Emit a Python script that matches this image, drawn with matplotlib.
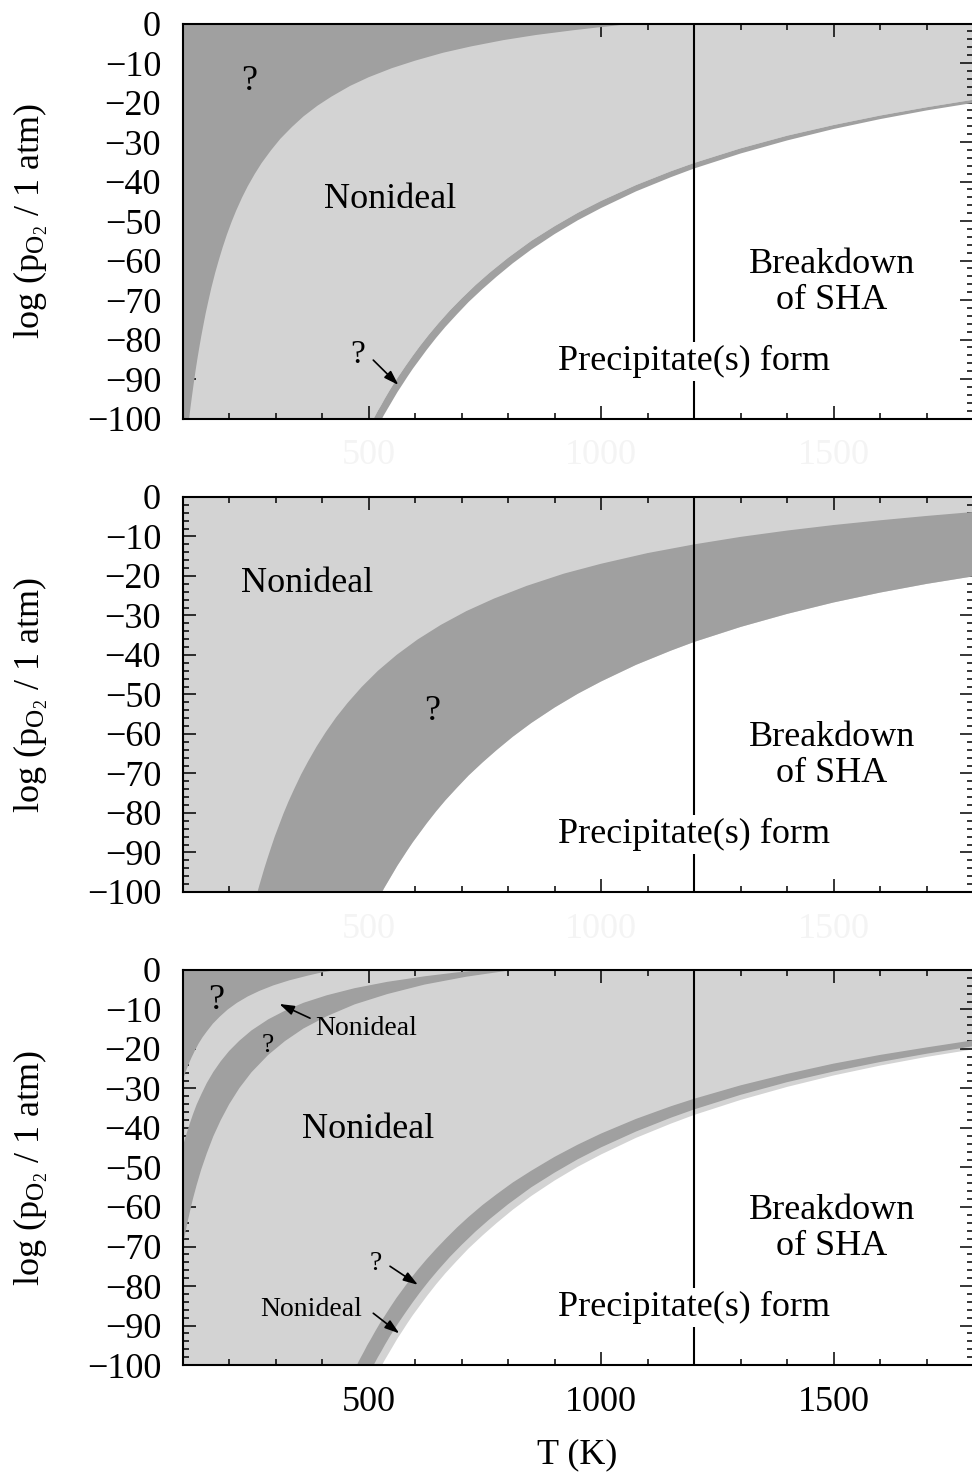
import matplotlib
matplotlib.use('Agg')
import matplotlib.pyplot as plt
from matplotlib.ticker import MultipleLocator

plt.rcParams['font.family'] = ['Liberation Serif', 'DejaVu Serif']
plt.rcParams['mathtext.fontset'] = 'custom'
plt.rcParams['mathtext.rm'] = 'Liberation Serif'
plt.rcParams['mathtext.it'] = 'Liberation Serif:italic'

DARK = '#a0a0a0'
LIGHT = '#d3d3d3'
T_MIN, T_MAX = 100, 1800
P_MIN, P_MAX = -100, 0
T_SHA = 1200

# --- boundary curves (T in K, log pO2) ---
# panel 1: edge of the upper-left "?" region
T_p1_top = [114, 117, 120, 124, 128, 132, 136, 140, 145, 150, 156, 162, 170,
            178, 186, 195, 205, 215, 228, 240, 255, 270, 290, 310, 335, 360,
            390, 420, 460, 500, 550, 600, 660, 720, 790, 860, 940, 1000, 1072]
P_p1_top = [-100, -97.1, -94.4, -91.0, -87.7, -84.7, -81.9, -79.2, -76.1, -73.1,
            -69.9, -66.8, -63.1, -59.8, -56.7, -53.5, -50.3, -47.4, -44.0, -41.2,
            -38.1, -35.3, -32.1, -29.2, -26.2, -23.5, -20.8, -18.5, -15.8, -13.6,
            -11.3, -9.4, -7.4, -5.8, -4.2, -2.9, -1.7, -0.9, 0]

# precipitation boundary, upper side of the thin band
T_prec_a = [511, 515, 520, 527, 535, 545, 555, 565, 580, 595, 610, 630, 650,
            675, 700, 730, 760, 800, 850, 900, 950, 1000, 1075, 1150, 1200,
            1300, 1400, 1500, 1600, 1700, 1800]
P_prec_a = [-100, -99.1, -98.0, -96.6, -94.9, -92.9, -91.0, -89.2, -86.6, -84.1,
            -81.7, -78.7, -75.9, -72.6, -69.6, -66.2, -63.1, -59.3, -55.0, -51.3,
            -47.9, -44.9, -40.9, -37.4, -35.3, -31.6, -28.4, -25.7, -23.3, -21.2,
            -19.3]

# precipitation boundary, lower side (edge of the white region)
T_prec_b = [529, 533, 538, 545, 553, 562, 572, 583, 595, 610, 625, 645, 665,
            690, 715, 745, 775, 810, 850, 900, 950, 1000, 1075, 1150, 1200,
            1300, 1400, 1500, 1600, 1700, 1800]
P_prec_b = [-100, -99.1, -98.1, -96.7, -95.1, -93.3, -91.5, -89.5, -87.4, -85.0,
            -82.6, -79.6, -76.8, -73.6, -70.5, -67.2, -64.1, -60.7, -57.2, -53.3,
            -49.8, -46.7, -42.5, -38.9, -36.7, -32.9, -29.6, -26.7, -24.2, -22.0,
            -20.1]

# panel 2: upper edge of the wide "?" band
T_p2_band = [261, 265, 270, 276, 283, 290, 298, 307, 317, 328, 340, 355, 370,
             388, 408, 430, 455, 485, 520, 560, 605, 655, 710, 770, 840, 920,
             1000, 1100, 1200, 1300, 1400, 1500, 1600, 1700, 1800]
P_p2_band = [-100, -98.3, -96.3, -93.9, -91.3, -88.8, -86.0, -83.2, -80.1, -77.0,
             -73.9, -70.2, -66.9, -63.2, -59.5, -55.8, -52.1, -48.1, -44.0, -40.0,
             -36.1, -32.4, -28.9, -25.7, -22.5, -19.4, -16.9, -14.2, -12.0, -10.1,
             -8.5, -7.1, -5.9, -4.8, -3.8]

# panel 3: edge of the upper-left "?" region
T_p3_corner = [100, 104, 108, 113, 119, 126, 134, 143, 153, 165, 180, 197, 217,
               240, 265, 295, 330, 370, 400, 430]
P_p3_corner = [-28.0, -26.6, -25.3, -23.8, -22.2, -20.5, -18.7, -17.0, -15.4,
               -13.6, -11.8, -10.0, -8.3, -6.7, -5.3, -3.9, -2.6, -1.4, -0.6, 0]

# panel 3: curved "?" band, upper and lower edges
T_p3_arc_a = [100, 104, 109, 115, 122, 130, 140, 152, 166, 182, 200, 222, 248,
              284, 320, 360, 410, 470, 540, 620, 690, 745]
P_p3_arc_a = [-45.0, -43.2, -41.2, -39.0, -36.6, -34.1, -31.5, -28.6, -25.8,
              -23.1, -20.5, -17.9, -15.3, -12.5, -10.3, -8.3, -6.4, -4.6, -3.0,
              -1.6, -0.6, 0]

T_p3_arc_b = [100, 104, 109, 115, 122, 130, 140, 152, 166, 182, 200, 222, 248,
              284, 320, 360, 410, 470, 540, 620, 710, 810]
P_p3_arc_b = [-70.0, -67.6, -64.7, -61.5, -58.0, -54.5, -50.5, -46.4, -42.1,
              -38.0, -34.0, -29.9, -25.9, -21.5, -18.0, -14.8, -11.7, -8.7, -6.1,
              -3.7, -1.7, 0]

# panel 3: upper edge of the dark band near the precipitation boundary
T_p3_low = [475, 479, 484, 490, 497, 505, 514, 524, 535, 547, 560, 575, 590,
            607, 625, 645, 667, 690, 715, 745, 775, 810, 850, 900, 950, 1000,
            1075, 1150, 1200, 1300, 1400, 1500, 1600, 1700, 1800]
P_p3_low = [-100, -99.0, -97.9, -96.6, -95.0, -93.4, -91.5, -89.5, -87.5, -85.3,
            -83.0, -80.6, -78.2, -75.7, -73.2, -70.6, -67.9, -65.2, -62.5, -59.5,
            -56.8, -53.8, -50.8, -47.3, -44.2, -41.4, -37.7, -34.5, -32.6, -29.2,
            -26.3, -23.7, -21.5, -19.6, -17.8]

x_ticks = [500, 1000, 1500]
y_label = r'log (p$_{\mathrm{O}_2}$ / 1 atm)'


def fill_above(ax, T, P, color):
    ax.fill(T + [T_MAX, T_MIN, T_MIN], P + [P_MAX, P_MAX, P_MIN],
            color=color, lw=0, zorder=1)


def fill_left(ax, T, P, color):
    ax.fill(T + [T_MIN, T_MIN], P + [P_MAX, P_MIN], color=color, lw=0, zorder=3)


def fill_band(ax, T_up, P_up, T_lo, P_lo, color):
    ax.fill(T_up + T_lo[::-1], P_up + P_lo[::-1], color=color, lw=0, zorder=2)


def arrow(ax, start, end):
    ax.annotate('', xy=end, xytext=start,
                arrowprops=dict(arrowstyle='-|>,head_length=0.55,head_width=0.18',
                                lw=1.2, color='black', mutation_scale=16,
                                shrinkA=0, shrinkB=0),
                zorder=6)


def common(ax, faint_labels):
    ax.set_xlim(T_MIN, T_MAX)
    ax.set_ylim(P_MIN, P_MAX)
    ax.set_xticks(x_ticks)
    ax.xaxis.set_minor_locator(MultipleLocator(100))
    ax.yaxis.set_major_locator(MultipleLocator(10))
    ax.yaxis.set_minor_locator(MultipleLocator(2))
    ax.tick_params(which='both', direction='in', top=True, right=True,
                   width=1.1, labelsize=26)
    ax.tick_params(which='major', length=9.5)
    ax.tick_params(which='minor', length=4.5)
    ax.tick_params(axis='y', pad=15.5)
    ax.tick_params(axis='x', pad=15,
                   labelcolor='#f4f4f4' if faint_labels else 'black')
    for s in ax.spines.values():
        s.set_linewidth(1.5)
        s.set_zorder(10)
    ax.plot([T_SHA, T_SHA], [P_MIN, P_MAX], color='black', lw=1.5, zorder=4)
    ax.text(1496, -65.5, 'Breakdown\nof SHA', fontsize=26, ha='center',
            va='center', linespacing=1.12, zorder=7)
    ax.text(T_SHA, -85.5, 'Precipitate(s) form', fontsize=26, ha='center',
            va='center', zorder=7,
            bbox=dict(facecolor='white', edgecolor='none', pad=2))


fig = plt.figure(figsize=(9.72, 14.8), dpi=100)
left, width, height = 0.1879, 0.8132, 0.2669
ax1 = fig.add_axes([left, 0.7172, width, height])
ax2 = fig.add_axes([left, 0.3973, width, height])
ax3 = fig.add_axes([left, 0.0777, width, height])

# panel 1
fill_above(ax1, T_prec_a, P_prec_a, LIGHT)
fill_band(ax1, T_prec_a, P_prec_a, T_prec_b, P_prec_b, DARK)
fill_left(ax1, T_p1_top, P_p1_top, DARK)
common(ax1, True)
ax1.text(243, -14.8, '?', fontsize=26, ha='center', va='center', zorder=7)
ax1.text(546, -44.6, 'Nonideal', fontsize=26, ha='center', va='center', zorder=7)
ax1.text(476, -83.9, '?', fontsize=24, ha='center', va='center', zorder=7)
arrow(ax1, (510, -85.2), (564, -91.5))

# panel 2
fill_above(ax2, T_prec_b, P_prec_b, LIGHT)
fill_band(ax2, T_p2_band, P_p2_band, T_prec_b, P_prec_b, DARK)
common(ax2, True)
ax2.text(368, -21.8, 'Nonideal', fontsize=26, ha='center', va='center', zorder=7)
ax2.text(637, -54.4, '?', fontsize=26, ha='center', va='center', zorder=7)

# panel 3
fill_above(ax3, T_prec_b, P_prec_b, LIGHT)
fill_band(ax3, T_p3_low, P_p3_low, T_prec_a, P_prec_a, DARK)
fill_band(ax3, T_p3_arc_a, P_p3_arc_a, T_p3_arc_b, P_p3_arc_b, DARK)
fill_left(ax3, T_p3_corner, P_p3_corner, DARK)
common(ax3, False)
ax3.text(172, -7.6, '?', fontsize=26, ha='center', va='center', zorder=7)
ax3.text(495, -14.7, 'Nonideal', fontsize=20, ha='center', va='center', zorder=7)
arrow(ax3, (374, -12.2), (308, -8.6))
ax3.text(284, -19.2, '?', fontsize=20, ha='center', va='center', zorder=7)
ax3.text(499, -40.5, 'Nonideal', fontsize=26, ha='center', va='center', zorder=7)
ax3.text(516, -74.2, '?', fontsize=20, ha='center', va='center', zorder=7)
arrow(ax3, (546, -75.0), (606, -79.7))
ax3.text(376, -86.0, 'Nonideal', fontsize=20, ha='center', va='center', zorder=7)
arrow(ax3, (510, -86.9), (566, -92.0))

for y_c in [221, 694.5, 1167.5]:
    fig.text(0.032, 1 - y_c / 1480, y_label, rotation=90, fontsize=26,
             ha='center', va='center')
fig.text(577.6 / 972, 1 - 1455 / 1480, 'T (K)', fontsize=26,
         ha='center', va='center')

fig.savefig('out.png', dpi=100)
